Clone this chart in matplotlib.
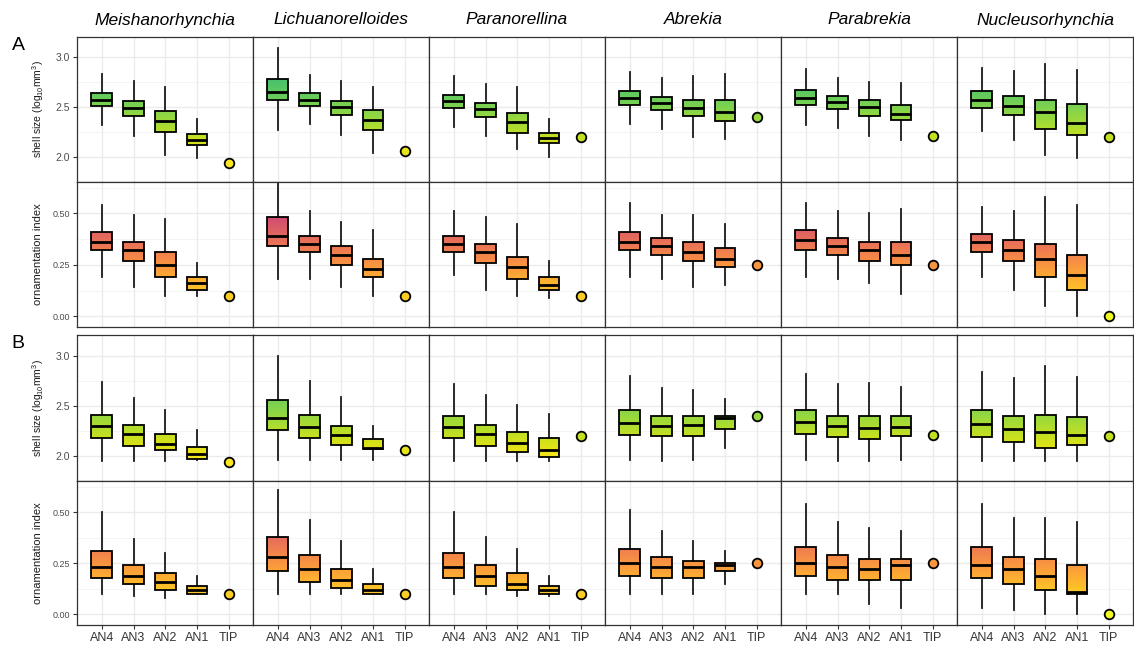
import matplotlib.pyplot as plt
import numpy as np
from matplotlib.ticker import MultipleLocator, FormatStrFormatter

plt.rcParams['font.family'] = ['Liberation Sans', 'DejaVu Sans']
plt.rcParams['mathtext.default'] = 'regular'

taxa = ['Meishanorhynchia', 'Lichuanorelloides', 'Paranorellina',
        'Abrekia', 'Parabrekia', 'Nucleusorhynchia']
tick_labels = ['AN4', 'AN3', 'AN2', 'AN1', 'TIP']

# TIP (single value per taxon), same in A and B
tip_shell = [1.94, 2.06, 2.20, 2.40, 2.21, 2.20]
tip_orn = [0.10, 0.10, 0.10, 0.25, 0.25, 0.00]

# A - shell size, one row per taxon, columns AN4..AN1
shellA_lo = [[2.32, 2.21, 2.02, 1.99], [2.27, 2.33, 2.22, 2.04], [2.30, 2.21, 2.08, 2.00],
             [2.33, 2.28, 2.20, 2.18], [2.32, 2.29, 2.21, 2.17], [2.26, 2.17, 2.02, 1.99]]
shellA_q1 = [[2.51, 2.41, 2.25, 2.12], [2.57, 2.51, 2.42, 2.27], [2.49, 2.40, 2.24, 2.14],
             [2.52, 2.47, 2.41, 2.36], [2.52, 2.48, 2.41, 2.37], [2.49, 2.42, 2.28, 2.22]]
shellA_med = [[2.57, 2.49, 2.36, 2.17], [2.65, 2.57, 2.50, 2.37], [2.56, 2.48, 2.35, 2.19],
              [2.59, 2.54, 2.49, 2.45], [2.59, 2.55, 2.50, 2.43], [2.57, 2.51, 2.45, 2.34]]
shellA_q3 = [[2.64, 2.56, 2.46, 2.23], [2.78, 2.64, 2.56, 2.47], [2.62, 2.54, 2.44, 2.24],
             [2.66, 2.60, 2.57, 2.57], [2.67, 2.61, 2.57, 2.52], [2.66, 2.61, 2.57, 2.53]]
shellA_hi = [[2.83, 2.76, 2.70, 2.38], [3.09, 2.82, 2.76, 2.70], [2.81, 2.73, 2.70, 2.38],
             [2.85, 2.79, 2.81, 2.83], [2.88, 2.79, 2.75, 2.74], [2.89, 2.86, 2.93, 2.87]]

# A - ornamentation index
ornA_lo = [[0.19, 0.14, 0.10, 0.10], [0.18, 0.18, 0.14, 0.10], [0.20, 0.13, 0.10, 0.09],
           [0.19, 0.18, 0.14, 0.15], [0.19, 0.18, 0.16, 0.11], [0.19, 0.13, 0.05, 0.00]]
ornA_q1 = [[0.32, 0.27, 0.19, 0.13], [0.34, 0.31, 0.25, 0.19], [0.31, 0.26, 0.18, 0.13],
           [0.32, 0.30, 0.27, 0.24], [0.32, 0.30, 0.27, 0.25], [0.31, 0.27, 0.19, 0.13]]
ornA_med = [[0.36, 0.32, 0.25, 0.16], [0.39, 0.35, 0.30, 0.23], [0.35, 0.31, 0.24, 0.15],
            [0.36, 0.34, 0.31, 0.28], [0.37, 0.34, 0.32, 0.30], [0.36, 0.32, 0.28, 0.20]]
ornA_q3 = [[0.41, 0.36, 0.31, 0.19], [0.48, 0.39, 0.34, 0.28], [0.39, 0.35, 0.29, 0.19],
           [0.41, 0.38, 0.36, 0.33], [0.42, 0.38, 0.36, 0.36], [0.40, 0.37, 0.35, 0.30]]
ornA_hi = [[0.54, 0.49, 0.47, 0.26], [0.65, 0.51, 0.46, 0.42], [0.51, 0.48, 0.45, 0.27],
           [0.55, 0.49, 0.49, 0.45], [0.55, 0.51, 0.50, 0.52], [0.53, 0.51, 0.58, 0.54]]

# B - shell size
shellB_lo = [[1.95, 1.95, 1.95, 1.96], [1.96, 1.96, 1.96, 1.96], [1.95, 1.95, 1.95, 1.95],
             [1.96, 1.95, 1.96, 2.08], [1.96, 1.95, 1.95, 1.96], [1.95, 1.95, 1.95, 1.95]]
shellB_q1 = [[2.18, 2.10, 2.06, 1.97], [2.26, 2.18, 2.11, 2.07], [2.18, 2.10, 2.04, 1.99],
             [2.21, 2.20, 2.20, 2.27], [2.22, 2.19, 2.17, 2.20], [2.19, 2.14, 2.08, 2.11]]
shellB_med = [[2.30, 2.22, 2.12, 2.02], [2.38, 2.29, 2.21, 2.08], [2.29, 2.22, 2.13, 2.06],
              [2.33, 2.30, 2.31, 2.38], [2.34, 2.30, 2.28, 2.29], [2.32, 2.27, 2.24, 2.21]]
shellB_q3 = [[2.41, 2.31, 2.22, 2.09], [2.56, 2.41, 2.30, 2.17], [2.40, 2.31, 2.24, 2.18],
             [2.46, 2.40, 2.40, 2.40], [2.46, 2.40, 2.40, 2.40], [2.46, 2.40, 2.41, 2.39]]
shellB_hi = [[2.74, 2.58, 2.46, 2.26], [3.00, 2.75, 2.59, 2.30], [2.72, 2.61, 2.51, 2.42],
             [2.80, 2.68, 2.66, 2.57], [2.82, 2.72, 2.73, 2.69], [2.84, 2.78, 2.90, 2.79]]

# B - ornamentation index
ornB_lo = [[0.10, 0.09, 0.08, 0.10], [0.10, 0.10, 0.10, 0.10], [0.10, 0.10, 0.09, 0.09],
           [0.10, 0.10, 0.10, 0.15], [0.10, 0.10, 0.05, 0.03], [0.03, 0.02, 0.00, 0.00]]
ornB_q1 = [[0.18, 0.15, 0.12, 0.10], [0.21, 0.16, 0.13, 0.10], [0.18, 0.14, 0.12, 0.10],
           [0.19, 0.18, 0.18, 0.21], [0.19, 0.17, 0.17, 0.17], [0.18, 0.15, 0.12, 0.10]]
ornB_med = [[0.23, 0.19, 0.16, 0.12], [0.28, 0.22, 0.17, 0.12], [0.23, 0.19, 0.15, 0.12],
            [0.25, 0.23, 0.23, 0.24], [0.25, 0.23, 0.22, 0.24], [0.24, 0.22, 0.19, 0.11]]
ornB_q3 = [[0.31, 0.24, 0.20, 0.14], [0.38, 0.29, 0.22, 0.15], [0.30, 0.24, 0.20, 0.14],
           [0.32, 0.28, 0.26, 0.25], [0.33, 0.29, 0.27, 0.27], [0.33, 0.28, 0.27, 0.24]]
ornB_hi = [[0.50, 0.37, 0.30, 0.19], [0.61, 0.46, 0.36, 0.22], [0.50, 0.38, 0.32, 0.19],
           [0.51, 0.41, 0.36, 0.31], [0.54, 0.45, 0.42, 0.41], [0.54, 0.47, 0.47, 0.45]]


# colour scales: top end of viridis for size, top end of plasma for ornamentation
def shell_col(v):
    return plt.cm.viridis(np.clip(1 - (np.asarray(v) - 1.95) * 0.353, 0, 1))


def orn_col(v):
    return plt.cm.plasma(np.clip(1 - np.asarray(v) * 1.0, 0, 1))


W, H = 1134, 648
fig = plt.figure(figsize=(W / 100, H / 100), dpi=100)

left0, colw = 77, 176
row_top = [36.7, 182, 335, 481]
row_bot = [182, 327, 481, 625]

rows = [
    (shellA_lo, shellA_q1, shellA_med, shellA_q3, shellA_hi, tip_shell, shell_col, 'shell'),
    (ornA_lo, ornA_q1, ornA_med, ornA_q3, ornA_hi, tip_orn, orn_col, 'orn'),
    (shellB_lo, shellB_q1, shellB_med, shellB_q3, shellB_hi, tip_shell, shell_col, 'shell'),
    (ornB_lo, ornB_q1, ornB_med, ornB_q3, ornB_hi, tip_orn, orn_col, 'orn'),
]

bw = 0.65
for r, (lo, q1, med, q3, hi, tips, colf, kind) in enumerate(rows):
    for c in range(6):
        ax = fig.add_axes([(left0 + c * colw) / W, 1 - row_bot[r] / H,
                           colw / W, (row_bot[r] - row_top[r]) / H])
        stats = [dict(whislo=lo[c][k], q1=q1[c][k], med=med[c][k], q3=q3[c][k],
                      whishi=hi[c][k], fliers=[]) for k in range(4)]
        bp = ax.bxp(stats, positions=[1, 2, 3, 4], widths=bw, patch_artist=True,
                    showcaps=False, showfliers=False,
                    boxprops=dict(facecolor='none', edgecolor='black', linewidth=1.3),
                    whiskerprops=dict(color='#1a1a1a', linewidth=1.3),
                    medianprops=dict(color='black', linewidth=2.0))
        for k, box in enumerate(bp['boxes']):
            box.set_zorder(3)
            vals = np.linspace(q1[c][k], q3[c][k], 64)
            grad = colf(vals).reshape(64, 1, 4)
            im = ax.imshow(grad, extent=[k + 1 - bw / 2, k + 1 + bw / 2, q1[c][k], q3[c][k]],
                           origin='lower', aspect='auto', interpolation='bilinear', zorder=2.5)
            im.set_clip_path(box)
        for m in bp['medians']:
            m.set_zorder(4)
        ax.scatter([5], [tips[c]], s=48, c=[colf(tips[c])], edgecolors='black',
                   linewidths=1.3, zorder=5)

        ax.set_xlim(0.22, 5.76)
        if kind == 'shell':
            ax.set_ylim(1.75, 3.205)
            ax.set_yticks([2.0, 2.5, 3.0])
            ax.yaxis.set_minor_locator(MultipleLocator(0.25))
            ax.yaxis.set_major_formatter(FormatStrFormatter('%.1f'))
        else:
            ax.set_ylim(-0.052, 0.652)
            ax.set_yticks([0.0, 0.25, 0.5])
            ax.yaxis.set_minor_locator(MultipleLocator(0.125))
            ax.yaxis.set_major_formatter(FormatStrFormatter('%.2f'))
        ax.set_xticks([1, 2, 3, 4, 5])
        ax.set_xticklabels(tick_labels)

        ax.set_axisbelow(True)
        ax.grid(which='major', color='#ebebeb', linewidth=1.0)
        ax.grid(which='minor', axis='y', color='#f2f2f2', linewidth=0.6)
        for s in ax.spines.values():
            s.set_color('#333333')
            s.set_linewidth(0.9)
        ax.tick_params(which='minor', length=0)
        ax.tick_params(axis='both', which='major', length=3, width=0.8, color='#333333')
        ax.tick_params(axis='y', labelsize=7.5 if kind == 'shell' else 6.5,
                       labelcolor='#4d4d4d', pad=2)
        ax.tick_params(axis='x', labelsize=9, labelcolor='#333333', pad=2)
        if c > 0:
            ax.tick_params(axis='y', length=0, labelleft=False)
        if r != 3:
            ax.tick_params(axis='x', length=0, labelbottom=False)

        if r == 0:
            fig.text((left0 + (c + 0.5) * colw) / W, 1 - 20 / H, taxa[c],
                     ha='center', va='center', fontsize=12.5, style='italic')

    ymid = 1 - (row_top[r] + row_bot[r]) / 2 / H
    label = 'shell size (log$_{10}$mm$^{3}$)' if kind == 'shell' else 'ornamentation index'
    fig.text(38 / W, ymid, label, rotation=90, ha='center', va='center',
             fontsize=7.5 if kind == 'shell' else 8, color='#1a1a1a')

fig.text(18 / W, 1 - 46 / H, 'A', ha='center', va='center', fontsize=14)
fig.text(18 / W, 1 - 344 / H, 'B', ha='center', va='center', fontsize=14)

fig.savefig('out.png', dpi=100)
